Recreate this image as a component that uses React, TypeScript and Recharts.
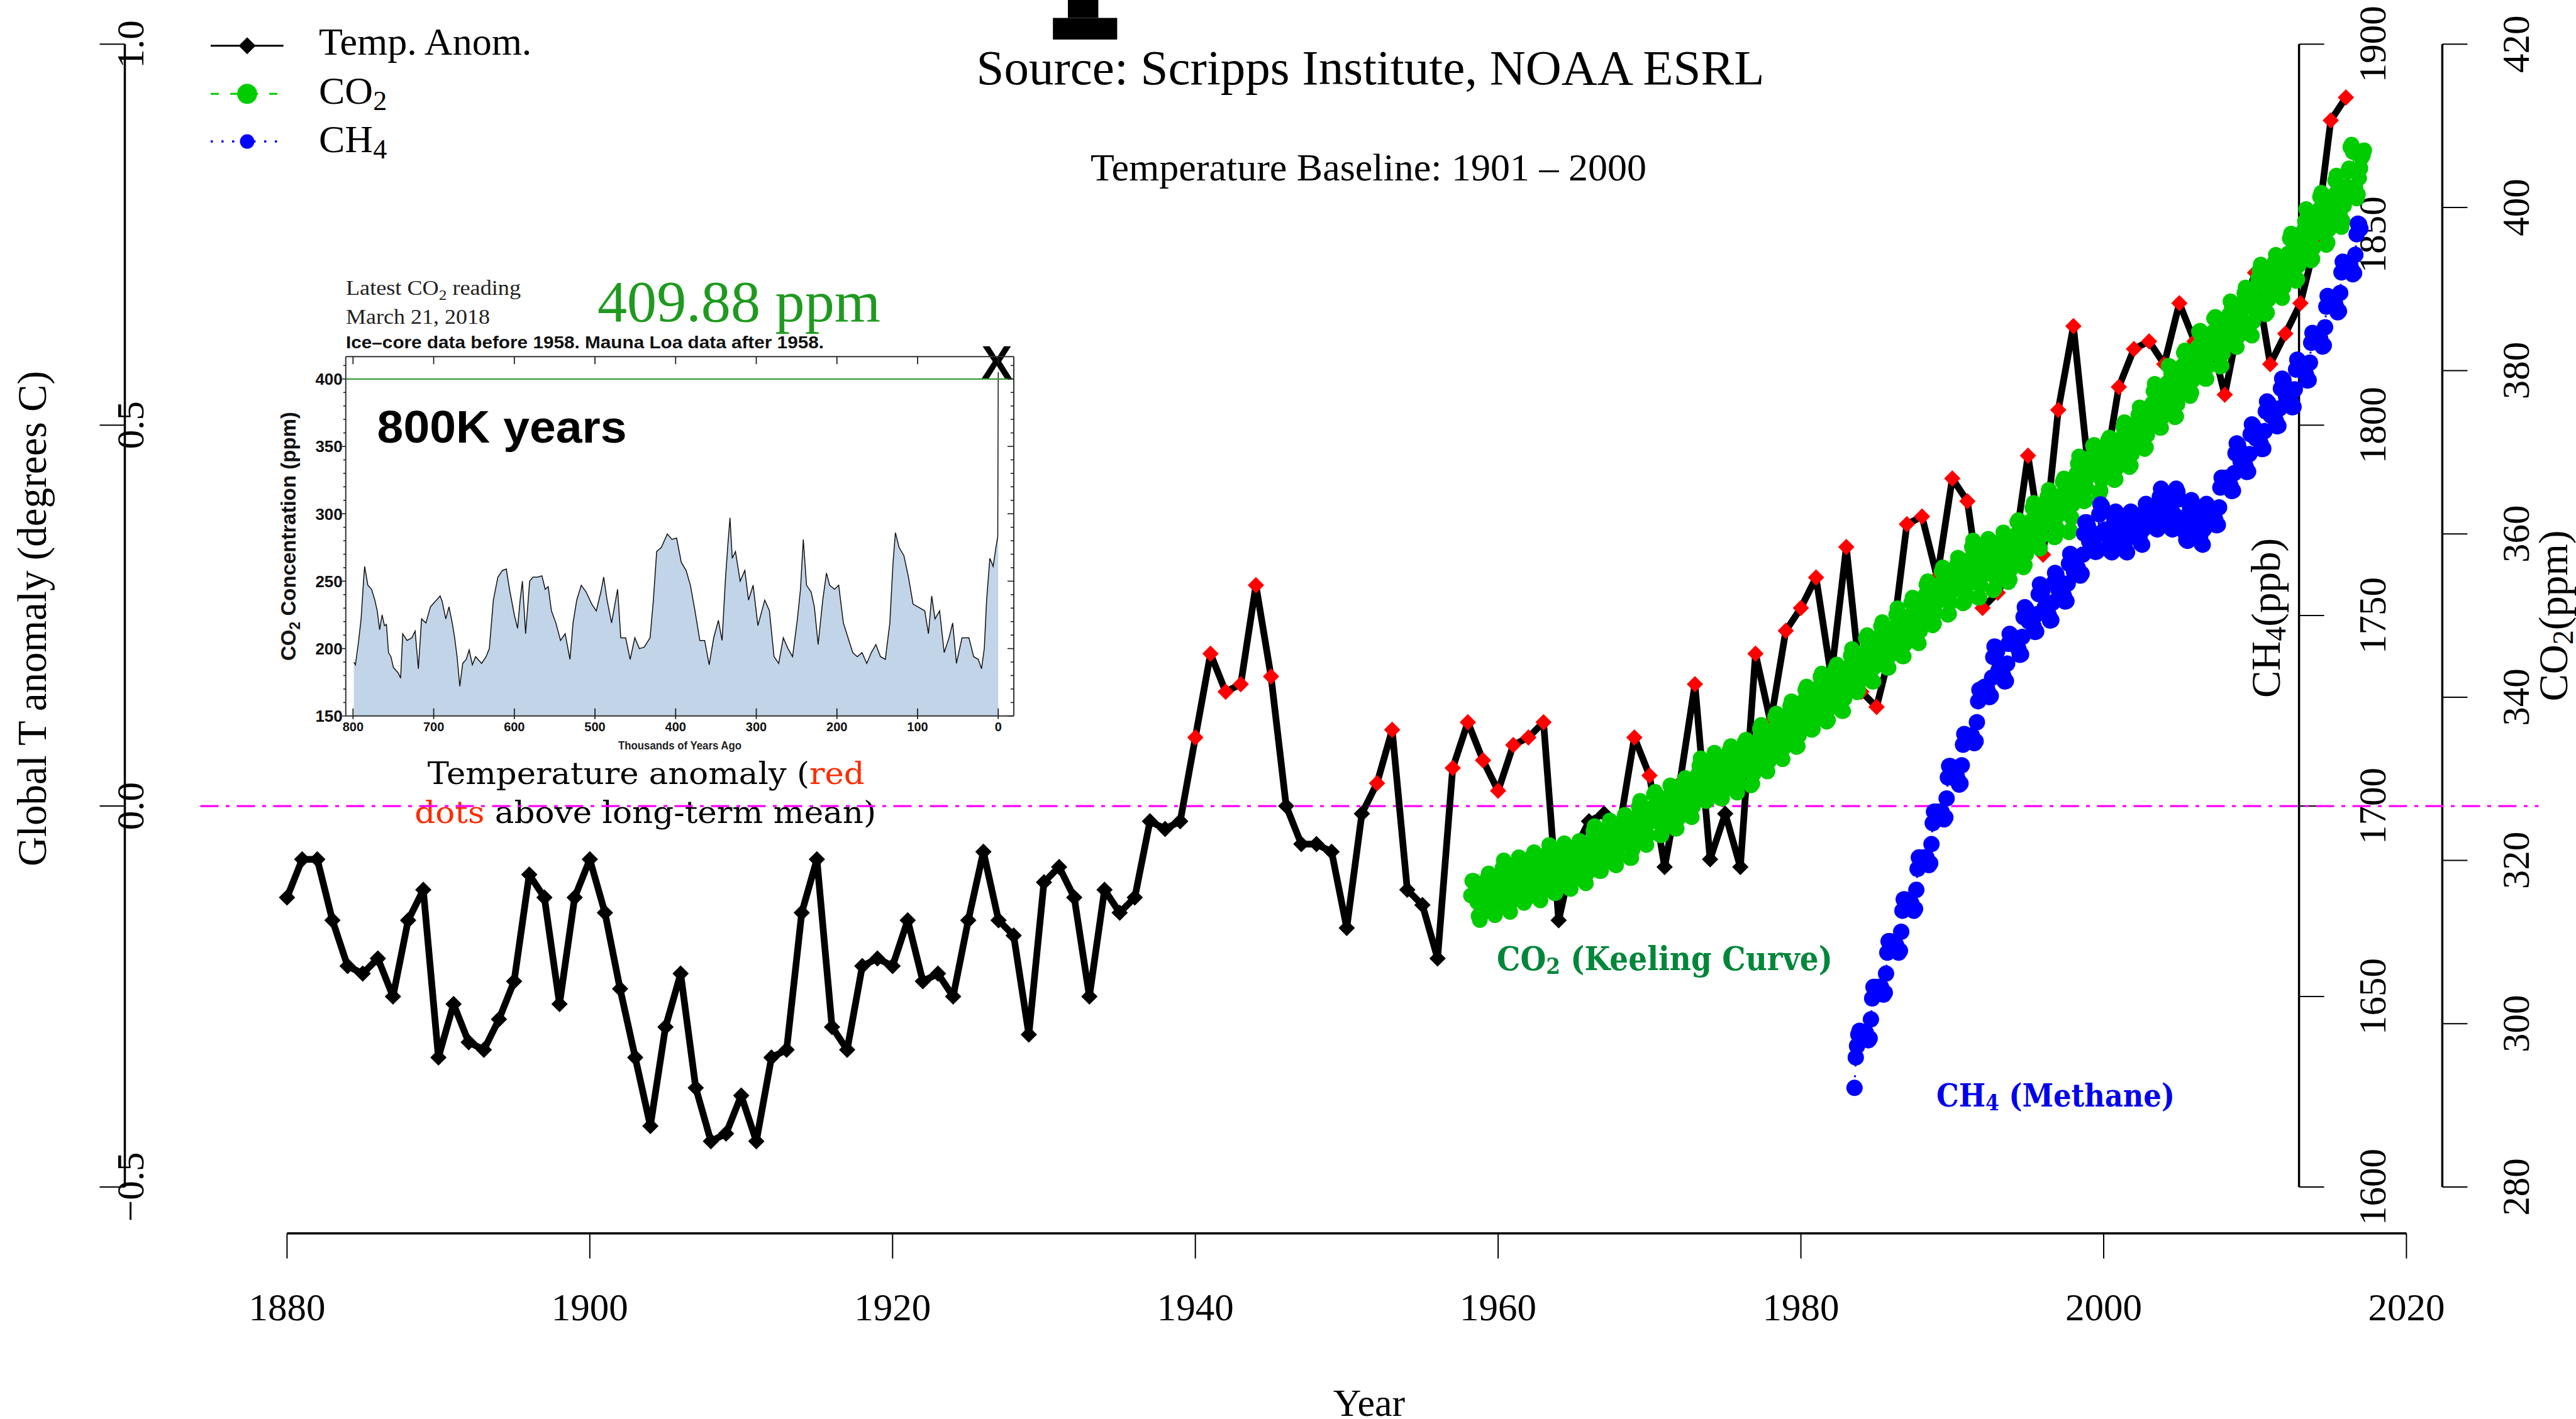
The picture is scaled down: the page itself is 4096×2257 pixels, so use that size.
import React from 'react';
import { ComposedChart, Line, Area, XAxis, YAxis, ReferenceLine } from 'recharts';

const W = 4096;
const H = 2257;
const SERIF = '"Liberation Serif", "Times New Roman", serif';
const SANS = '"Liberation Sans", Arial, sans-serif';
const SLAB = '"DejaVu Serif", serif';

// ---------------- DATA ----------------
const tempStartYear = 1880;
const tempAnomaly = [
  -0.12, -0.07, -0.07, -0.15, -0.21, -0.22, -0.20, -0.25, -0.15, -0.11,
  -0.33, -0.26, -0.31, -0.32, -0.28, -0.23, -0.09, -0.12, -0.26, -0.12,
  -0.07, -0.14, -0.24, -0.33, -0.42, -0.29, -0.22, -0.37, -0.44, -0.43,
  -0.38, -0.44, -0.33, -0.32, -0.14, -0.07, -0.29, -0.32, -0.21, -0.20,
  -0.21, -0.15, -0.23, -0.22, -0.25, -0.15, -0.06, -0.15, -0.17, -0.30,
  -0.10, -0.08, -0.12, -0.25, -0.11, -0.14, -0.12, -0.02, -0.03, -0.02,
  0.09, 0.20, 0.15, 0.16, 0.29, 0.17, 0.00, -0.05, -0.05, -0.06,
  -0.16, -0.01, 0.03, 0.10, -0.11, -0.13, -0.20, 0.05, 0.11, 0.06,
  0.02, 0.08, 0.09, 0.11, -0.15, -0.06, -0.02, -0.01, -0.03, 0.09,
  0.04, -0.08, 0.03, 0.16, -0.07, -0.01, -0.08, 0.20, 0.11, 0.23,
  0.26, 0.30, 0.17, 0.34, 0.15, 0.13, 0.21, 0.37, 0.38, 0.30,
  0.43, 0.40, 0.26, 0.28, 0.32, 0.46, 0.33, 0.52, 0.63, 0.44,
  0.43, 0.55, 0.60, 0.61, 0.58, 0.66, 0.61, 0.62, 0.54, 0.64,
  0.70, 0.58, 0.62, 0.66, 0.74, 0.90, 0.93,
];

// Mauna Loa monthly CO2 (ppm), starting March 1958
const co2Start = { year: 1958, month: 3 };
const co2Ppm = [
  315.7, 317.5, 317.5, 317.1, 315.9, 314.9, 313.2, 312.7, 313.3, 314.7,
  315.6, 316.4, 316.7, 317.8, 318.4, 318.0, 316.5, 314.8, 313.8, 313.3, 314.8, 315.6,
  316.4, 317.0, 317.9, 319.1, 320.0, 319.4, 318.1, 315.9, 314.2, 313.7, 315.0, 316.2,
  317.0, 317.7, 318.6, 319.8, 320.4, 319.6, 318.3, 316.5, 314.8, 315.1, 316.1, 317.0,
  317.9, 318.5, 319.5, 320.6, 321.0, 320.3, 318.8, 316.9, 315.3, 315.1, 316.2, 317.3,
  318.3, 318.7, 319.6, 321.0, 321.9, 321.1, 319.5, 317.6, 316.0, 316.0, 317.0, 318.2,
  319.4, 320.2, 320.9, 321.4, 322.1, 321.5, 320.1, 318.0, 316.6, 316.5, 317.7, 318.7,
  319.4, 320.4, 320.9, 321.9, 322.4, 321.8, 321.0, 318.9, 317.4, 317.2, 318.4, 319.4,
  320.6, 321.3, 322.4, 323.6, 324.2, 323.6, 322.1, 320.3, 318.7, 318.7, 320.0, 321.2,
  322.2, 322.1, 322.8, 324.2, 324.9, 324.2, 322.6, 321.0, 319.5, 319.4, 320.7, 321.9,
  322.6, 323.2, 323.9, 325.0, 325.6, 325.3, 324.0, 321.9, 320.3, 320.3, 321.3, 322.5,
  323.9, 324.4, 325.4, 326.6, 327.3, 326.4, 325.4, 323.5, 322.1, 321.9, 323.1, 324.6,
  325.0, 325.8, 326.5, 328.1, 328.4, 327.8, 326.3, 324.7, 323.1, 323.1, 324.1, 325.1,
  326.1, 326.6, 327.2, 327.9, 329.2, 328.8, 327.5, 325.7, 323.9, 323.9, 325.1, 326.2,
  326.9, 327.8, 328.3, 329.7, 330.1, 329.7, 328.5, 326.9, 325.4, 325.3, 326.6, 327.8,
  328.8, 329.4, 330.6, 331.6, 332.5, 332.1, 330.9, 329.1, 327.3, 327.3, 328.3, 329.4,
  330.0, 330.7, 331.7, 333.2, 332.9, 332.5, 331.2, 329.3, 327.6, 327.6, 328.5, 329.7,
  330.6, 331.4, 332.0, 333.5, 334.0, 333.4, 331.9, 330.0, 328.5, 328.3, 329.4, 330.6,
  331.6, 332.5, 333.2, 334.5, 334.8, 334.1, 332.9, 331.1, 329.2, 329.4, 330.6, 331.8,
  332.9, 333.4, 334.7, 336.1, 336.6, 335.9, 334.6, 332.9, 331.1, 330.9, 332.1, 333.3,
  334.7, 335.1, 336.0, 337.6, 338.0, 337.6, 336.3, 334.5, 332.6, 332.4, 333.8, 334.8,
  336.1, 336.7, 338.0, 338.9, 339.5, 339.3, 337.6, 335.7, 333.9, 334.0, 335.3, 336.7,
  337.9, 338.7, 339.6, 340.9, 341.3, 340.9, 339.3, 337.3, 336.0, 336.1, 337.2, 338.4,
  339.4, 340.5, 341.3, 342.5, 342.9, 342.3, 340.6, 338.4, 337.0, 337.2, 338.6, 339.6,
  340.8, 341.5, 342.6, 343.6, 344.0, 343.3, 341.9, 339.9, 338.3, 338.3, 339.8, 340.9,
  341.8, 342.8, 343.8, 345.1, 345.9, 345.5, 344.1, 342.5, 340.6, 340.9, 342.0, 343.2,
  344.2, 344.8, 345.6, 347.2, 347.6, 346.8, 345.4, 343.2, 341.9, 341.9, 343.7, 344.9,
  345.8, 346.3, 347.5, 348.7, 349.2, 348.7, 346.9, 345.0, 343.6, 343.6, 345.1, 346.4,
  347.0, 347.6, 348.6, 350.1, 350.9, 349.9, 348.2, 346.4, 345.0, 345.0, 346.5, 347.7,
  348.4, 349.0, 350.0, 351.6, 352.2, 351.6, 350.2, 348.1, 346.7, 346.6, 348.1, 349.3,
  350.5, 351.7, 352.5, 353.8, 354.2, 353.6, 352.4, 350.4, 348.8, 349.0, 350.3, 351.6,
  352.7, 353.1, 353.9, 355.4, 355.9, 355.4, 353.9, 351.8, 350.1, 350.2, 351.6, 352.9,
  353.8, 354.8, 355.4, 356.2, 357.1, 356.6, 354.9, 353.1, 351.5, 351.6, 353.0, 354.2,
  354.9, 355.7, 357.0, 358.4, 359.2, 358.2, 356.4, 354.0, 352.2, 352.2, 353.7, 354.9,
  355.9, 356.7, 357.6, 358.7, 359.4, 359.2, 357.2, 355.0, 353.1, 353.3, 354.6, 355.9,
  356.6, 357.1, 358.3, 359.3, 360.2, 359.4, 357.8, 355.6, 354.1, 354.4, 355.7, 357.0,
  358.2, 358.9, 359.9, 361.5, 361.7, 361.0, 359.5, 357.5, 355.9, 356.2, 357.5, 358.9,
  359.9, 361.0, 361.6, 363.2, 363.8, 363.3, 361.7, 359.3, 358.4, 358.2, 359.7, 361.0,
  362.1, 363.2, 364.0, 364.6, 365.4, 365.1, 363.5, 361.3, 359.6, 359.6, 360.8, 362.2,
  363.1, 364.0, 364.6, 366.4, 366.8, 365.6, 364.5, 362.6, 360.2, 360.4, 362.0, 363.6,
  365.3, 366.2, 367.4, 368.6, 369.5, 369.2, 367.8, 365.7, 364.0, 364.1, 365.6, 367.0,
  368.2, 368.8, 369.5, 370.8, 370.9, 370.3, 369.4, 367.2, 364.9, 365.3, 366.6, 368.0,
  369.1, 369.6, 370.5, 371.5, 371.8, 371.7, 369.9, 368.0, 366.6, 366.7, 368.1, 369.3,
  370.3, 371.0, 371.8, 373.1, 373.7, 373.2, 371.5, 369.6, 368.2, 368.4, 369.8, 371.1,
  372.3, 372.9, 373.6, 374.6, 375.5, 375.2, 373.9, 371.8, 370.4, 370.6, 372.1, 373.6,
  374.6, 375.5, 376.0, 377.5, 378.4, 378.1, 376.6, 374.5, 373.0, 373.0, 374.3, 375.6,
  376.8, 377.5, 378.5, 380.6, 380.5, 379.6, 377.8, 375.9, 374.3, 374.4, 375.9, 377.3,
  378.4, 379.5, 380.6, 382.2, 382.5, 382.2, 380.7, 378.7, 376.9, 377.3, 378.8, 380.0,
  381.4, 381.8, 382.9, 384.8, 384.9, 384.1, 382.2, 380.5, 379.0, 379.0, 380.5, 382.0,
  382.9, 383.9, 384.7, 386.4, 386.6, 386.1, 384.4, 381.9, 380.5, 380.6, 382.1, 383.5,
  385.1, 385.7, 385.9, 386.9, 388.5, 387.9, 386.4, 384.2, 383.1, 382.9, 384.2, 385.4,
  386.9, 387.4, 388.5, 389.5, 390.2, 389.5, 388.0, 385.8, 384.4, 384.3, 386.0, 387.5,
  388.5, 390.2, 391.3, 392.3, 393.0, 392.2, 390.3, 388.5, 386.9, 387.1, 388.7, 389.9,
  391.2, 391.8, 392.4, 393.3, 394.2, 393.7, 392.5, 390.1, 389.1, 388.9, 390.2, 391.7,
  393.1, 393.7, 394.4, 396.2, 396.8, 395.9, 394.3, 392.5, 391.0, 391.2, 392.9, 394.3,
  395.5, 396.7, 397.2, 398.3, 399.8, 398.6, 397.4, 395.3, 393.5, 393.7, 395.1, 396.8,
  397.8, 398.0, 399.7, 401.3, 401.8, 401.3, 399.1, 397.1, 395.4, 395.7, 397.3, 398.8,
  399.9, 400.3, 401.5, 403.3, 403.9, 402.8, 401.2, 398.9, 397.6, 398.3, 400.2, 401.8,
  402.6, 404.4, 404.8, 407.4, 407.7, 406.8, 404.6, 402.5, 401.1, 401.6, 403.6, 404.8,
  406.1, 406.4, 407.0,
];

// Global monthly CH4 (ppb), starting July 1983
const ch4Start = { year: 1983, month: 7 };
const ch4Ppb = [
  1626, 1634, 1637, 1640, 1641, 1640,
  1639.5, 1640.5, 1640.5, 1640.5, 1639.5, 1638.5, 1639, 1644, 1649.5, 1652.5, 1652.5, 1651.5,
  1651.5, 1652.5, 1652.5, 1652.5, 1651.5, 1650.5, 1651, 1656, 1661.5, 1664.5, 1664.5, 1663.5,
  1662.5, 1663.5, 1663.5, 1663.5, 1662.5, 1661.5, 1662, 1667, 1672.5, 1675.5, 1675.5, 1674.5,
  1673.5, 1674.5, 1674.5, 1674.5, 1673.5, 1672.5, 1673, 1678, 1683.5, 1686.5, 1686.5, 1685.5,
  1685.5, 1686.5, 1686.5, 1686.5, 1685.5, 1684.5, 1685, 1690, 1695.5, 1698.5, 1698.5, 1697.5,
  1697.5, 1698.5, 1698.5, 1698.5, 1697.5, 1696.5, 1697, 1702, 1707.5, 1710.5, 1710.5, 1709.5,
  1707.4, 1708.3, 1708.1, 1707.9, 1706.8, 1705.6, 1705.9, 1710.7, 1716.1, 1718.9, 1718.7, 1717.6,
  1717.5, 1718.5, 1718.5, 1718.5, 1717.5, 1716.5, 1717, 1722, 1727.5, 1730.5, 1730.5, 1729.5,
  1730.4, 1731.3, 1731.1, 1730.9, 1729.8, 1728.6, 1728.9, 1733.7, 1739.1, 1741.9, 1741.7, 1740.6,
  1735.5, 1736.2, 1735.8, 1735.4, 1734.1, 1732.7, 1732.8, 1737.4, 1742.6, 1745.2, 1744.8, 1743.5,
  1742.5, 1743.2, 1742.8, 1742.4, 1741.1, 1739.7, 1739.8, 1744.4, 1749.6, 1752.2, 1751.8, 1750.5,
  1748.5, 1749.2, 1748.8, 1748.4, 1747.1, 1745.7, 1745.8, 1750.4, 1755.6, 1758.2, 1757.8, 1756.5,
  1751.5, 1752.2, 1751.8, 1751.4, 1750.1, 1748.7, 1748.8, 1753.4, 1758.6, 1761.2, 1760.8, 1759.5,
  1756.5, 1757.2, 1756.8, 1756.4, 1755.1, 1753.7, 1753.8, 1758.4, 1763.6, 1766.2, 1765.8, 1764.5,
  1761.5, 1762.5, 1762.5, 1762.5, 1761.5, 1760.5, 1761, 1766, 1771.5, 1774.5, 1774.5, 1773.5,
  1769.5, 1770.2, 1769.8, 1769.4, 1768.1, 1766.7, 1766.8, 1771.4, 1776.6, 1779.2, 1778.8, 1777.5,
  1772.5, 1772.6, 1771.7, 1770.8, 1768.8, 1766.9, 1766.6, 1770.7, 1775.2, 1777.3, 1776.4, 1774.5,
  1772.5, 1772.6, 1771.7, 1770.8, 1768.8, 1766.9, 1766.6, 1770.7, 1775.2, 1777.3, 1776.4, 1774.5,
  1774.5, 1774.6, 1773.7, 1772.8, 1770.8, 1768.9, 1768.6, 1772.7, 1777.2, 1779.3, 1778.4, 1776.5,
  1778.5, 1778.6, 1777.7, 1776.8, 1774.8, 1772.9, 1772.6, 1776.7, 1781.2, 1783.3, 1782.4, 1780.5,
  1778.5, 1778.6, 1777.7, 1776.8, 1774.8, 1772.9, 1772.6, 1776.7, 1781.2, 1783.3, 1782.4, 1780.5,
  1775.5, 1775.6, 1774.7, 1773.8, 1771.8, 1769.9, 1769.6, 1773.7, 1778.2, 1780.3, 1779.4, 1777.5,
  1774.5, 1774.6, 1773.7, 1772.8, 1770.8, 1768.9, 1768.6, 1772.7, 1777.2, 1779.3, 1778.4, 1776.5,
  1776.5, 1777.2, 1776.8, 1776.4, 1775.1, 1773.7, 1773.8, 1778.4, 1783.6, 1786.2, 1785.8, 1784.5,
  1785.5, 1786.2, 1785.8, 1785.4, 1784.1, 1782.7, 1782.8, 1787.4, 1792.6, 1795.2, 1794.8, 1793.5,
  1790.5, 1791.2, 1790.8, 1790.4, 1789.1, 1787.7, 1787.8, 1792.4, 1797.6, 1800.2, 1799.8, 1798.5,
  1796.5, 1797.2, 1796.8, 1796.4, 1795.1, 1793.7, 1793.8, 1798.4, 1803.6, 1806.2, 1805.8, 1804.5,
  1802.5, 1803.2, 1802.8, 1802.4, 1801.1, 1799.7, 1799.8, 1804.4, 1809.6, 1812.2, 1811.8, 1810.5,
  1807.5, 1808.2, 1807.8, 1807.4, 1806.1, 1804.7, 1804.8, 1809.4, 1814.6, 1817.2, 1816.8, 1815.5,
  1814.5, 1815.2, 1814.8, 1814.4, 1813.1, 1811.7, 1811.8, 1816.4, 1821.6, 1824.2, 1823.8, 1822.5,
  1822.4, 1823.3, 1823.1, 1822.9, 1821.8, 1820.6, 1820.9, 1825.7, 1831.1, 1833.9, 1833.7, 1832.6,
  1831.4, 1832.3, 1832.1, 1831.9, 1830.8, 1829.6, 1829.9, 1834.7, 1840.1, 1842.9, 1842.7, 1841.6,
  1841.4, 1842.3, 1842.1, 1841.9, 1840.8, 1839.6, 1839.9, 1844.7, 1850.1, 1852.9, 1852.7, 1851.6,
];

// Inset: 800K-year CO2 record (thousands of years ago, ppm)
const insetKyr = [
  799, 797, 793, 790, 787, 785.6, 781.6, 777, 773, 770,
  767, 764, 761, 758.6, 756, 753, 750, 744, 741, 738.4,
  733, 727, 723, 719, 715, 709.6, 704, 698, 692, 689.5,
  685, 681, 677, 674, 671, 667.6, 664, 659.6, 656, 652,
  648, 640.6, 635, 631, 626, 620.4, 614.7, 610, 606, 600,
  596, 592.8, 590, 586, 581, 577, 571.5, 565.8, 561.7, 558,
  554, 548.5, 542.7, 537, 531, 527.2, 522.6, 517, 511, 504,
  498.4, 492.7, 489.2, 485, 479.4, 472, 468, 462, 456.4, 450.6,
  445, 439, 431.7, 427.6, 423.5, 417.8, 410.3, 404.6, 398.8, 393,
  387, 381.7, 376, 370, 364, 358.4, 352.8, 347, 342.4, 338.4,
  335.5, 332.6, 329.8, 325.8, 320, 314.2, 309.6, 303.9, 298, 289.5,
  283.7, 278, 272.2, 266.5, 260.7, 255, 249, 245.2, 241.7, 237.7,
  232, 228, 223.3, 217.6, 213, 209, 203, 197.8, 192, 186.2,
  180.4, 174.7, 168.9, 163, 157.4, 151.7, 146, 140, 134.4, 130.4,
  127.5, 122.9, 117, 111.3, 105.6, 99.8, 91.1, 86.5, 82.5, 78.4,
  72.7, 67, 61, 56.5, 51.8, 44.9, 36.3, 30.5, 24.7, 20.7,
  17.3, 14.4, 10.4, 6.3, 2.9, 0.6, 0,
];
const insetPpm = [
  190, 188, 206, 222, 250, 261, 247, 244, 236, 228,
  214, 225, 217, 218, 197, 194, 186, 182, 178, 211,
  206, 208, 213, 185, 222, 219, 231, 235, 239, 235,
  222, 231, 219, 208, 194, 172, 189, 192, 199, 188,
  194, 189, 194, 200, 236, 253, 258, 259, 244, 225,
  215, 236, 250, 211, 250, 253, 253, 254, 244, 246,
  228, 219, 206, 211, 192, 219, 236, 247, 242, 233,
  228, 242, 253, 236, 219, 244, 208, 208, 192, 208,
  200, 201, 208, 236, 272, 275, 285, 281, 282, 264,
  258, 247, 228, 206, 206, 188, 208, 221, 206, 250,
  275, 297, 267, 272, 250, 258, 236, 247, 217, 236,
  228, 194, 189, 208, 200, 194, 222, 244, 281, 247,
  242, 231, 203, 236, 256, 247, 244, 247, 219, 208,
  197, 194, 197, 189, 197, 203, 194, 192, 219, 264,
  286, 275, 269, 253, 233, 231, 228, 211, 239, 222,
  228, 197, 208, 219, 189, 208, 208, 194, 192, 185,
  200, 236, 267, 261, 275, 283, 405,
];

const yearTicks = [1880, 1900, 1920, 1940, 1960, 1980, 2000, 2020];
const tempTicks = [-0.5, 0, 0.5, 1.0];
const co2Ticks = [280, 300, 320, 340, 360, 380, 400, 420];
const ch4Ticks = [1600, 1650, 1700, 1750, 1800, 1850, 1900];
const insetXTicks = [800, 700, 600, 500, 400, 300, 200, 100, 0];
const insetYTicks = [150, 160, 170, 180, 190, 200, 210, 220, 230, 240, 250, 260, 270, 280, 290, 300, 310, 320, 330, 340, 350, 360, 370, 380, 390, 400, 410];

// ---------------- TABLES ----------------
const tempRows = tempAnomaly.map((t, i) => ({ x: tempStartYear + i, t }));
function monthly(start: { year: number; month: number }, vals: number[], key: string) {
  return vals.map((v, i) => {
    const m = start.month - 1 + i;
    return { x: start.year + Math.floor(m / 12) + ((m % 12) + 0.5) / 12, [key]: v };
  });
}
const co2Rows = monthly(co2Start, co2Ppm, 'co2');
const ch4Rows = monthly(ch4Start, ch4Ppb, 'ch4');
const insetRows = insetKyr.map((k, i) => ({ k, v: insetPpm[i] }));

// ---------------- LAYOUT ----------------
const PLOT_TOP = 70.3;
const PLOT_BOTTOM = 1887.9;
const AXIS_LEFT_X = 318.5;
const X1880 = 456.4;
const X2020 = 3826.4;
const PLOT_RIGHT = 4036.4;
const XAXIS_Y = 1961.7;
const CH4_AXIS_X = 3655.6;
const CO2_AXIS_X = 3883.4;
const PX_PER_YEAR = (X2020 - X1880) / 140;
const X_MIN = 1880 - (X1880 - AXIS_LEFT_X) / PX_PER_YEAR;
const X_MAX = 2020 + (PLOT_RIGHT - X2020) / PX_PER_YEAR;

const TICK_FONT = 61;
const LEFT_LABEL_X = 228.4;
const CH4_LABEL_X = 3793.5;
const CO2_LABEL_X = 4021;
const XTICK_BASE = 2099.6;

const INSET_L = 549.8;
const INSET_R = 1612;
const INSET_T = 567.2;
const INSET_B = 1138.8;

const fmt1 = (v: number) => (v < 0 ? '\u2212' : '') + Math.abs(v).toFixed(1);

function rotTick(xBase: number, format: (v: number) => string) {
  return (p: any) => (
    <text
      x={xBase}
      y={p.y}
      transform={`rotate(-90 ${xBase} ${p.y})`}
      textAnchor="middle"
      fontFamily={SERIF}
      fontSize={TICK_FONT}
      fill="#000"
    >
      {format(p.payload.value)}
    </text>
  );
}

const XTick = (p: any) => (
  <text x={p.x} y={XTICK_BASE} textAnchor="middle" fontFamily={SERIF} fontSize={TICK_FONT} fill="#000">
    {p.payload.value}
  </text>
);

const Diamond = (p: any) => {
  const { cx, cy, payload, index } = p;
  if (cx == null || cy == null) return <g key={`dm${index}`} />;
  const r = 13;
  return (
    <path
      key={`dm${index}`}
      d={`M${cx},${cy - r}L${cx + r},${cy}L${cx},${cy + r}L${cx - r},${cy}Z`}
      fill={payload.t > 0 ? '#ff0000' : '#000000'}
    />
  );
};

// inset ticks
const InsetLeftTick = (p: any) => {
  const v = p.payload.value;
  const major = v % 50 === 0;
  return (
    <g>
      <line x1={INSET_L - (major ? 6 : 4)} x2={INSET_L} y1={p.y} y2={p.y} stroke="#222" strokeWidth={1.6} />
      {major && (
        <text x={INSET_L - 5} y={p.y} dy="0.36em" textAnchor="end" fontFamily={SANS} fontWeight="bold" fontSize={26} fill="#111">
          {v}
        </text>
      )}
    </g>
  );
};
const InsetRightTick = (p: any) => {
  const v = p.payload.value;
  const major = v % 50 === 0;
  return <line x1={INSET_R - (major ? 10 : 5)} x2={INSET_R} y1={p.y} y2={p.y} stroke="#222" strokeWidth={1.6} />;
};
const InsetBottomTick = (p: any) => (
  <g>
    <line x1={p.x} x2={p.x} y1={INSET_B - 12} y2={INSET_B + 5} stroke="#222" strokeWidth={1.8} />
    <text x={p.x} y={1163} textAnchor="middle" fontFamily={SANS} fontWeight="bold" fontSize={20} fill="#111">
      {p.payload.value}
    </text>
  </g>
);
const InsetTopTick = (p: any) => (
  <line x1={p.x} x2={p.x} y1={INSET_T} y2={INSET_T + 12} stroke="#222" strokeWidth={1.8} />
);

const abs: React.CSSProperties = { position: 'absolute', left: 0, top: 0 };

function Annotations() {
  const rot = (x: number, y: number) => `rotate(-90 ${x} ${y})`;
  return (
    <svg width={W} height={H} style={abs}>
      {/* cropped black glyph at top */}
      <rect x={1698} y={0} width={48.4} height={28.5} fill="#000" />
      <rect x={1674.2} y={28.5} width={102.2} height={34.4} fill="#000" />

      {/* titles */}
      <text x={2179} y={133.5} textAnchor="middle" fontFamily={SERIF} fontSize={79} fill="#000">
        Source: Scripps Institute, NOAA ESRL
      </text>
      <text x={2176} y={286.5} textAnchor="middle" fontFamily={SERIF} fontSize={62} fill="#000">
        Temperature Baseline: 1901 – 2000
      </text>

      {/* legend */}
      <line x1={335} x2={450.7} y1={72.7} y2={72.7} stroke="#000" strokeWidth={3} />
      <path d="M393,59.2L406.5,72.7L393,86.2L379.5,72.7Z" fill="#000" />
      <line x1={335} x2={450.7} y1={149.2} y2={149.2} stroke="#00cd00" strokeWidth={3} strokeDasharray="13 18" />
      <circle cx={393} cy={149.2} r={16} fill="#00cd00" />
      <line x1={335} x2={450.7} y1={225.1} y2={225.1} stroke="#0000ff" strokeWidth={3.5} strokeDasharray="3.5 13.5" />
      <circle cx={393} cy={225.1} r={11.5} fill="#0000ff" />
      <text x={507} y={87.2} fontFamily={SERIF} fontSize={62} fill="#000">Temp. Anom.</text>
      <text x={507} y={164.6} fontFamily={SERIF} fontSize={62} fill="#000">
        CO<tspan fontSize={44} dy={10}>2</tspan>
      </text>
      <text x={507} y={242} fontFamily={SERIF} fontSize={62} fill="#000">
        CH<tspan fontSize={44} dy={10}>4</tspan>
      </text>

      {/* axis titles */}
      <text x={73} y={984} transform={rot(73, 984)} textAnchor="middle" fontFamily={SERIF} fontSize={65} fill="#000">
        Global T anomaly (degrees C)
      </text>
      <text x={2177} y={2252} textAnchor="middle" fontFamily={SERIF} fontSize={62} fill="#000">Year</text>
      <text x={3624.5} y={983} transform={rot(3624.5, 983)} textAnchor="middle" fontFamily={SERIF} fontSize={65} fill="#000">
        CH<tspan fontSize={46} dy={9}>4</tspan><tspan dy={-9}>(ppb)</tspan>
      </text>
      <text x={4082} y={979.5} transform={rot(4082, 979.5)} textAnchor="middle" fontFamily={SERIF} fontSize={65} fill="#000">
        CO<tspan fontSize={46} dy={9}>2</tspan><tspan dy={-9}>(ppm)</tspan>
      </text>

      {/* inset header texts */}
      <text x={550} y={469} fontFamily={SERIF} fontSize={34} fill="#222" textLength={278} lengthAdjust="spacingAndGlyphs">
        Latest CO<tspan fontSize={24} dy={8}>2</tspan><tspan dy={-8}> reading</tspan>
      </text>
      <text x={550} y={514.7} fontFamily={SERIF} fontSize={34} fill="#222" textLength={229} lengthAdjust="spacingAndGlyphs">
        March 21, 2018
      </text>
      <text x={950} y={510.7} fontFamily={SERIF} fontSize={94} fill="#1f9a1f" textLength={450} lengthAdjust="spacingAndGlyphs">
        409.88 ppm
      </text>
      <text x={550} y={554} fontFamily={SANS} fontWeight="bold" fontSize={27} fill="#111" textLength={760} lengthAdjust="spacingAndGlyphs">
        Ice–core data before 1958. Mauna Loa data after 1958.
      </text>
      <text x={599.6} y={704} fontFamily={SANS} fontWeight="bold" fontSize={73} fill="#000" textLength={397} lengthAdjust="spacingAndGlyphs">
        800K years
      </text>
      <text x={1585} y={602} textAnchor="middle" fontFamily={SANS} fontWeight="bold" fontSize={74} fill="#000">X</text>
      <text x={1081} y={1192} textAnchor="middle" fontFamily={SANS} fontWeight="bold" fontSize={18} fill="#222" textLength={196} lengthAdjust="spacingAndGlyphs">
        Thousands of Years Ago
      </text>
      <text x={469.7} y={853} transform={rot(469.7, 853)} textAnchor="middle" fontFamily={SANS} fontWeight="bold" fontSize={33} fill="#111">
        CO<tspan fontSize={23} dy={7}>2</tspan><tspan dy={-7}> Concentration (ppm)</tspan>
      </text>

      {/* annotation below inset */}
      <text x={679.7} y={1246.5} fontFamily={SLAB} fontSize={49} fill="#000" textLength={695} lengthAdjust="spacingAndGlyphs">
        Temperature anomaly (<tspan fill="#ff2a00">red</tspan>
      </text>
      <text x={659.2} y={1308.7} fontFamily={SLAB} fontSize={49} fill="#000" textLength={734} lengthAdjust="spacingAndGlyphs">
        <tspan fill="#ff2a00">dots</tspan> above long-term mean)
      </text>

      {/* series labels */}
      <text x={2380} y={1542.7} fontFamily={SLAB} fontWeight="bold" fontSize={52} fill="#00873a" textLength={534} lengthAdjust="spacingAndGlyphs">
        CO<tspan fontSize={36} dy={6}>2</tspan><tspan dy={-6}> (Keeling Curve)</tspan>
      </text>
      <text x={3079} y={1759.7} fontFamily={SLAB} fontWeight="bold" fontSize={50} fill="#0000ee" textLength={379} lengthAdjust="spacingAndGlyphs">
        CH<tspan fontSize={35} dy={6}>4</tspan><tspan dy={-6}> (Methane)</tspan>
      </text>
    </svg>
  );
}

function InsetChart() {
  return (
    <div style={abs}>
      <ComposedChart
        width={W}
        height={H}
        margin={{ top: INSET_T - 20, bottom: H - INSET_B - 60, left: INSET_L - 100, right: W - INSET_R - 20 }}
      >
        <XAxis
          xAxisId="b"
          type="number"
          dataKey="k"
          domain={[-19.3, 809]}
          reversed
          allowDataOverflow
          ticks={insetXTicks}
          interval={0}
          height={60}
          stroke="#333"
          axisLine={{ stroke: '#333', strokeWidth: 2 }}
          tickLine={false}
          tick={InsetBottomTick}
        />
        <XAxis
          xAxisId="t"
          orientation="top"
          type="number"
          dataKey="k"
          domain={[-19.3, 809]}
          reversed
          allowDataOverflow
          ticks={insetXTicks}
          interval={0}
          height={20}
          axisLine={{ stroke: '#333', strokeWidth: 2 }}
          tickLine={false}
          tick={InsetTopTick}
        />
        <YAxis
          yAxisId="l"
          type="number"
          domain={[150, 416.6]}
          allowDataOverflow
          ticks={insetYTicks}
          interval={0}
          width={100}
          axisLine={{ stroke: '#333', strokeWidth: 2 }}
          tickLine={false}
          tick={InsetLeftTick}
        />
        <YAxis
          yAxisId="r"
          orientation="right"
          type="number"
          domain={[150, 416.6]}
          allowDataOverflow
          ticks={insetYTicks}
          interval={0}
          width={20}
          axisLine={{ stroke: '#333', strokeWidth: 2 }}
          tickLine={false}
          tick={InsetRightTick}
        />
        <Area
          xAxisId="b"
          yAxisId="l"
          data={insetRows}
          dataKey="v"
          type="linear"
          stroke="#111"
          strokeWidth={1.5}
          fill="#c2d4e8"
          fillOpacity={1}
          isAnimationActive={false}
          dot={false}
          activeDot={false}
        />
        <ReferenceLine xAxisId="b" yAxisId="l" y={400} stroke="#3c9a3c" strokeWidth={2.2} />
      </ComposedChart>
    </div>
  );
}

function MainChart() {
  return (
    <div style={abs}>
      <ComposedChart
        width={W}
        height={H}
        margin={{ top: PLOT_TOP, bottom: H - PLOT_BOTTOM, left: AXIS_LEFT_X - 260, right: W - PLOT_RIGHT }}
      >
        <XAxis type="number" dataKey="x" domain={[X_MIN, X_MAX]} allowDataOverflow hide />
        <YAxis
          yAxisId="t"
          type="number"
          domain={[-0.5, 1.0]}
          allowDataOverflow
          ticks={tempTicks}
          interval={0}
          width={260}
          tickSize={40}
          stroke="#000"
          axisLine={{ stroke: '#000', strokeWidth: 3.5 }}
          tickLine={{ stroke: '#000', strokeWidth: 2 }}
          tick={rotTick(LEFT_LABEL_X, fmt1)}
        />
        <YAxis yAxisId="co2" type="number" domain={[280, 420]} allowDataOverflow hide />
        <YAxis yAxisId="ch4" type="number" domain={[1600, 1900]} allowDataOverflow hide />
        <ReferenceLine yAxisId="t" y={0} stroke="#ff00ff" strokeWidth={3.3} strokeDasharray="29 11.5 6 11.5" />
        <Line
          yAxisId="t"
          data={tempRows}
          dataKey="t"
          type="linear"
          stroke="#000"
          strokeWidth={10.7}
          strokeLinejoin="round"
          strokeLinecap="round"
          dot={Diamond}
          activeDot={false}
          isAnimationActive={false}
        />
        <Line
          yAxisId="co2"
          data={co2Rows}
          dataKey="co2"
          type="linear"
          stroke="#00cd00"
          strokeWidth={2.7}
          strokeDasharray="13 18"
          dot={{ r: 12.5, fill: '#00cd00', stroke: 'none', strokeWidth: 0 }}
          activeDot={false}
          isAnimationActive={false}
        />
        <Line
          yAxisId="ch4"
          data={ch4Rows}
          dataKey="ch4"
          type="linear"
          stroke="#0000ff"
          strokeWidth={3}
          strokeDasharray="3 14"
          dot={{ r: 13, fill: '#0000ff', stroke: 'none', strokeWidth: 0 }}
          activeDot={false}
          isAnimationActive={false}
        />
      </ComposedChart>
    </div>
  );
}

function YearAxisChart() {
  return (
    <div style={abs}>
      <ComposedChart width={W} height={H} margin={{ top: 0, bottom: 0, left: X1880, right: W - X2020 }}>
        <XAxis
          type="number"
          dataKey="x"
          domain={[1880, 2020]}
          allowDataOverflow
          ticks={yearTicks}
          interval={0}
          height={H - XAXIS_Y}
          tickSize={40}
          stroke="#000"
          axisLine={{ stroke: '#000', strokeWidth: 3.5 }}
          tickLine={{ stroke: '#000', strokeWidth: 2 }}
          tick={XTick}
        />
        <YAxis type="number" domain={[0, 1]} allowDataOverflow hide />
      </ComposedChart>
    </div>
  );
}

function RightAxisChart(props: { axisX: number; id: string; domain: [number, number]; ticks: number[]; labelX: number }) {
  const width = 200;
  return (
    <div style={abs}>
      <ComposedChart
        width={W}
        height={H}
        margin={{ top: PLOT_TOP, bottom: H - PLOT_BOTTOM, left: 0, right: W - props.axisX - width }}
      >
        <XAxis type="number" dataKey="x" domain={[X_MIN, X_MAX]} allowDataOverflow hide />
        <YAxis
          yAxisId={props.id}
          orientation="right"
          type="number"
          domain={props.domain}
          allowDataOverflow
          ticks={props.ticks}
          interval={0}
          width={width}
          tickSize={40}
          stroke="#000"
          axisLine={{ stroke: '#000', strokeWidth: 3.5 }}
          tickLine={{ stroke: '#000', strokeWidth: 2 }}
          tick={rotTick(props.labelX, (v) => String(v))}
        />
      </ComposedChart>
    </div>
  );
}

export default function App() {
  return (
    <div style={{ position: 'absolute', left: 0, top: 0, width: W, height: H, background: '#fff', overflow: 'hidden' }}>
      <Annotations />
      <InsetChart />
      <YearAxisChart />
      <RightAxisChart axisX={CH4_AXIS_X} id="ch4axis" domain={[1600, 1900]} ticks={ch4Ticks} labelX={CH4_LABEL_X} />
      <RightAxisChart axisX={CO2_AXIS_X} id="co2axis" domain={[280, 420]} ticks={co2Ticks} labelX={CO2_LABEL_X} />
      <MainChart />
    </div>
  );
}
